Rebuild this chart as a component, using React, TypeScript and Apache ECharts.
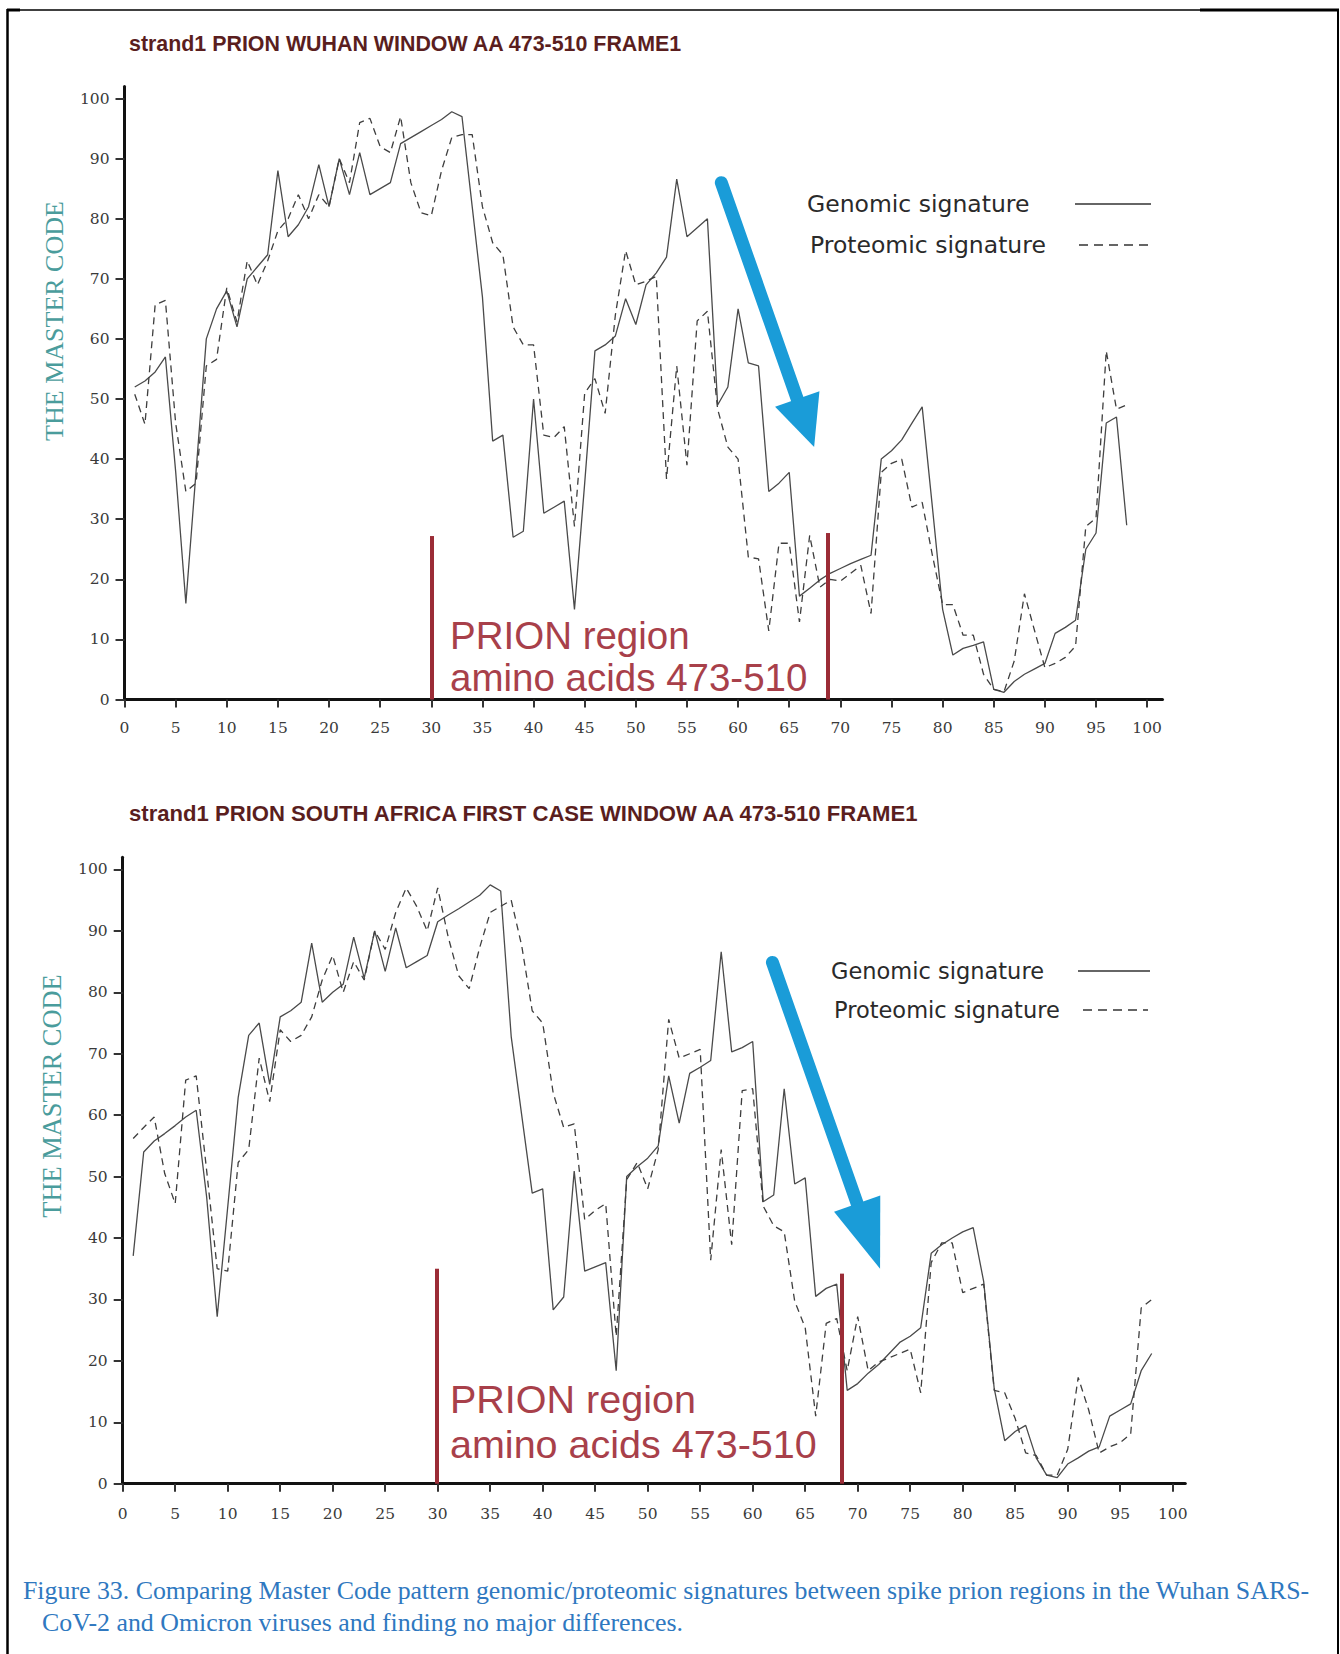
import React, { useEffect, useRef } from "react";
import * as echarts from "echarts";

// ---------- data ----------
const xTicks = [0, 5, 10, 15, 20, 25, 30, 35, 40, 45, 50, 55, 60, 65, 70, 75, 80, 85, 90, 95, 100];
const yTicks = [0, 10, 20, 30, 40, 50, 60, 70, 80, 90, 100];

const seriesNames = ["Genomic signature", "Proteomic signature"];
const chartTitles = [
  "strand1 PRION WUHAN WINDOW AA 473-510 FRAME1",
  "strand1 PRION SOUTH AFRICA FIRST CASE WINDOW AA 473-510 FRAME1",
];
const axisName = "THE MASTER CODE";
const prionText = ["PRION region", "amino acids 473-510"];
const captionLines = [
  "Figure 33. Comparing Master Code pattern genomic/proteomic signatures between spike prion regions in the Wuhan SARS-",
  "CoV-2 and Omicron viruses and finding no major differences.",
];

// positions 1..98
const wuhanGenomic = [
  52, 53, 54.5, 57, 38, 16, 38, 60, 65, 68,
  62, 70, 72, 74, 88, 77, 79, 82, 89, 82,
  90, 84, 91, 84, 85, 86, 92.5, 93.5, 94.5, 95.5,
  96.5, 97.8, 97, 82, 67, 43, 44, 27, 28, 50,
  31, 32, 33, 15, 36, 58, 59, 60.5, 66.7, 62.4,
  69, 71, 73.6, 86.6, 77, 78.5, 80, 49, 52, 65,
  56, 55.5, 34.6, 36, 37.8, 17.2, 18.5, 19.9, 21, 21.8,
  22.6, 23.3, 24, 40, 41.4, 43.2, 46, 48.7, 32, 15,
  7.4, 8.5, 9, 9.6, 1.7, 1.2, 3, 4.2, 5.1, 6,
  11, 12, 13.2, 25, 27.7, 46, 47, 29,
];
const wuhanProteomic = [
  50.8, 45.8, 65.7, 66.4, 46, 34.6, 36, 55.5, 56.6, 68.5,
  62.8, 73, 69, 73, 78, 80, 84, 80, 84, 82,
  90, 86, 96, 96.7, 92, 91, 97, 86, 81, 80.5,
  88, 93.5, 94, 94, 82, 76, 74, 62, 59, 59,
  44, 43.6, 45.4, 28.8, 51, 53.4, 47.6, 64, 74.7, 69,
  69.6, 70.4, 36.7, 55.5, 39, 63, 64.6, 48.3, 42, 40,
  23.7, 23.4, 11.4, 26, 26, 12.9, 27.3, 18.7, 20, 19.7,
  21, 22.3, 14.3, 37.8, 39.3, 40, 32, 32.8, 24, 15.8,
  15.8, 10.7, 10.7, 4.2, 1.7, 1.3, 6.4, 17.6, 11.4, 5.3,
  6, 7, 8.9, 28.8, 30.2, 58, 48.3, 49,
];
const southAfricaGenomic = [
  37.1, 54, 55.8, 57, 58.3, 59.7, 60.8, 46.6, 27.2, 45,
  62.9, 73, 75, 65, 76, 77, 78.4, 88, 78.4, 80,
  81.3, 89, 82.3, 90, 83.4, 90.5, 84, 85, 86, 91.5,
  92.6, 93.6, 94.7, 95.8, 97.5, 96.5, 72.8, 60, 47.3, 48,
  28.3, 30.4, 50.9, 34.6, 35.3, 36, 18.4, 50, 51.6, 53,
  55, 66.4, 58.7, 66.8, 67.8, 68.9, 86.6, 70.3, 71, 72,
  45.9, 47, 64.3, 48.8, 49.8, 30.5, 31.8, 32.5, 15.2, 16.3,
  18, 19.4, 21.2, 23, 24, 25.4, 37.5, 38.9, 40, 41,
  41.7, 32.9, 15.5, 7, 8.5, 9.5, 4.2, 1.4, 1, 3.2,
  4.2, 5.3, 6, 11, 12, 13, 18.4, 21.2,
];
const southAfricaProteomic = [
  56.2, 58, 59.7, 50.5, 45.6, 65.7, 66.4, 50.9, 35, 34.6,
  52.3, 54.4, 69.3, 62.2, 73.9, 72, 73, 76, 82, 86,
  80, 85, 82, 90, 87, 93, 97, 94, 90, 97,
  89, 82.7, 80.6, 87.3, 93, 94, 95, 87.6, 77, 75,
  63.6, 58, 58.6, 43, 44.5, 45.6, 24, 49.5, 52.3, 48,
  54.4, 75.6, 69.3, 70, 70.7, 36.4, 54.4, 38.9, 64, 64.3,
  45.2, 42, 41, 29.7, 25.4, 11, 26.1, 26.9, 18.4, 27.2,
  18.4, 19.8, 20.5, 21.2, 21.9, 14.8, 36, 39.2, 39.2, 31.1,
  31.8, 32.5, 15.2, 14.8, 10.6, 5, 4.6, 1.4, 1.4, 5.6,
  17.3, 12, 5, 6, 6.7, 8.1, 28.6, 30,
];

// prion region markers [x, height] and arrows [x1, y1, x2, y2] in data units
const wuhanPrionMarks = [[30, 27.2], [68.8, 27.7]];
const southAfricaPrionMarks = [[29.9, 35], [68.5, 34.2]];
const wuhanArrow = [58.36, 86, 66.61, 46];
const southAfricaArrow = [61.88, 84.87, 71.04, 40.31];

// ---------- styling ----------
const SOLID_COLOR = "#4a4a4a";
const DASH_COLOR = "#3e3e3e";
const PRION_COLOR = "#9b2c36";
const PRION_TEXT = "#a8404a";
const ARROW_BLUE = "#1a9cd8";

const toPairs = (arr: number[]) => arr.map((v, i) => [i + 1, v]);

function xAxisCfg(gridIndex: number, max: number, margin: number) {
  return {
    type: "value",
    gridIndex,
    min: 0,
    max,
    interval: 5,
    axisLine: { show: true, onZero: false, lineStyle: { color: "#111", width: 3 } },
    axisTick: {
      show: true,
      length: 8,
      customValues: xTicks,
      lineStyle: { color: "#333", width: 2 },
    },
    axisLabel: {
      customValues: xTicks,
      margin,
      fontFamily: "DejaVu Serif",
      fontSize: 15.5,
      color: "#3a3a3a",
      formatter: (v: number) => (v % 5 === 0 && v <= 100 ? String(v) : ""),
    },
    splitLine: { show: false },
  };
}

function yAxisCfg(gridIndex: number) {
  return {
    type: "value",
    gridIndex,
    min: 0,
    max: 102,
    interval: 10,
    axisLine: { show: true, onZero: false, lineStyle: { color: "#111", width: 3 } },
    axisTick: {
      show: true,
      length: 9,
      customValues: yTicks,
      lineStyle: { color: "#333", width: 2 },
    },
    axisLabel: {
      customValues: yTicks,
      margin: 15,
      fontFamily: "DejaVu Serif",
      fontSize: 15.5,
      color: "#3a3a3a",
      formatter: (v: number) => (v % 10 === 0 && v <= 100 ? String(v) : ""),
    },
    splitLine: { show: false },
  };
}

function chartSeries(
  idx: number,
  genomic: number[],
  proteomic: number[],
  prion: number[][],
  arrow: number[],
  headSize: number[]
) {
  return [
    {
      name: seriesNames[0],
      type: "line",
      xAxisIndex: idx,
      yAxisIndex: idx,
      data: toPairs(genomic),
      symbol: "none",
      silent: true,
      z: 2,
      lineStyle: { color: SOLID_COLOR, width: 1.3 },
      markLine: {
        silent: true,
        animation: false,
        symbol: ["none", "none"],
        label: { show: false },
        lineStyle: { color: PRION_COLOR, width: 4, type: "solid" },
        data: prion.map((p) => [{ coord: [p[0], 0] }, { coord: [p[0], p[1]] }]),
      },
    },
    {
      name: seriesNames[1],
      type: "line",
      xAxisIndex: idx,
      yAxisIndex: idx,
      data: toPairs(proteomic),
      symbol: "none",
      silent: true,
      z: 3,
      lineStyle: { color: DASH_COLOR, width: 1.3, type: [7, 5] },
      markLine: {
        silent: true,
        animation: false,
        symbol: ["none", "triangle"],
        symbolSize: headSize,
        label: { show: false },
        lineStyle: { color: ARROW_BLUE, width: 13, type: "solid", cap: "round", opacity: 1 },
        itemStyle: { color: ARROW_BLUE },
        data: [[{ coord: [arrow[0], arrow[1]] }, { coord: [arrow[2], arrow[3]] }]],
      },
    },
  ];
}

function txt(
  text: string,
  x: number,
  y: number,
  size: number,
  family: string,
  fill: string,
  opts: any = {}
) {
  return {
    type: "text",
    x,
    y,
    rotation: opts.rotation || 0,
    silent: true,
    z: 10,
    style: {
      text,
      fill,
      fontSize: size,
      fontFamily: family,
      fontWeight: opts.weight || "normal",
      align: opts.align || "left",
      textAlign: opts.align || "left",
      verticalAlign: "middle",
      textVerticalAlign: "middle",
    },
  };
}

function legendLines(x1: number, x2: number, y1: number, x3: number, x4: number, y2: number) {
  return [
    {
      type: "line",
      silent: true,
      shape: { x1, y1, x2, y2: y1 },
      style: { stroke: "#333", lineWidth: 1.6 },
    },
    {
      type: "line",
      silent: true,
      shape: { x1: x3, y1: y2, x2: x4, y2 },
      style: { stroke: "#333", lineWidth: 1.6, lineDash: [9, 6] },
    },
  ];
}

export default function App() {
  const ref = useRef<HTMLDivElement>(null);

  useEffect(() => {
    if (!ref.current) return;
    const chart = echarts.init(ref.current, undefined, { renderer: "svg" });

    const graphics: any[] = [
      // frame
      { type: "line", silent: true, shape: { x1: 7, y1: 10, x2: 1202, y2: 10 }, style: { stroke: "#000", lineWidth: 1.5 } },
      { type: "line", silent: true, shape: { x1: 1200, y1: 10, x2: 1339, y2: 10 }, style: { stroke: "#000", lineWidth: 3 } },
      { type: "line", silent: true, shape: { x1: 7, y1: 10, x2: 20, y2: 10 }, style: { stroke: "#000", lineWidth: 3 } },
      { type: "line", silent: true, shape: { x1: 7.5, y1: 9, x2: 7.5, y2: 1654 }, style: { stroke: "#000", lineWidth: 2.5 } },
      { type: "line", silent: true, shape: { x1: 1338, y1: 9, x2: 1338, y2: 1654 }, style: { stroke: "#000", lineWidth: 2 } },

      // titles
      txt(chartTitles[0], 129, 44, 21.4, "Liberation Sans", "#5a1e1e", { weight: "bold" }),
      txt(chartTitles[1], 129, 813, 22.1, "Liberation Sans", "#5a1e1e", { weight: "bold" }),

      // y axis names
      txt(axisName, 54, 321, 26, "Liberation Serif", "#4a9c9c", { rotation: Math.PI / 2, align: "center" }),
      txt(axisName, 52, 1096, 26.4, "Liberation Serif", "#4a9c9c", { rotation: Math.PI / 2, align: "center" }),

      // legends
      txt(seriesNames[0], 807, 204, 23.5, "DejaVu Sans", "#2a2a2a"),
      txt(seriesNames[1], 810, 245, 23.5, "DejaVu Sans", "#2a2a2a"),
      ...legendLines(1075, 1151, 204, 1079, 1150, 245),
      txt(seriesNames[0], 831, 971, 22.5, "DejaVu Sans", "#2a2a2a"),
      txt(seriesNames[1], 834, 1010, 22.5, "DejaVu Sans", "#2a2a2a"),
      ...legendLines(1078, 1150, 971, 1083, 1148, 1010),

      // prion region labels
      txt(prionText[0], 450, 635, 38.5, "Liberation Sans", PRION_TEXT),
      txt(prionText[1], 450, 677, 38.5, "Liberation Sans", PRION_TEXT),
      txt(prionText[0], 450, 1399, 39.5, "Liberation Sans", PRION_TEXT),
      txt(prionText[1], 450, 1444, 39.5, "Liberation Sans", PRION_TEXT),

      // caption
      txt(captionLines[0], 23, 1590, 25.85, "Liberation Serif", "#2f78c0"),
      txt(captionLines[1], 42, 1622, 25.85, "Liberation Serif", "#2f78c0"),
    ];

    chart.setOption({
      animation: false,
      backgroundColor: "#ffffff",
      grid: [
        { left: 124.5, top: 86.5, width: 1038, height: 613, containLabel: false },
        { left: 122.7, top: 857.2, width: 1062.6, height: 626.5, containLabel: false },
      ],
      xAxis: [xAxisCfg(0, 101.5, 20), xAxisCfg(1, 101.2, 22)],
      yAxis: [yAxisCfg(0), yAxisCfg(1)],
      series: [
        ...chartSeries(0, wuhanGenomic, wuhanProteomic, wuhanPrionMarks, wuhanArrow, [47, 51]),
        ...chartSeries(1, southAfricaGenomic, southAfricaProteomic, southAfricaPrionMarks, southAfricaArrow, [49, 69]),
      ],
      graphic: graphics,
    });

    return () => chart.dispose();
  }, []);

  return (
    <div
      ref={ref}
      style={{ position: "absolute", left: 0, top: 0, width: 1340, height: 1654, background: "#fff" }}
    />
  );
}
